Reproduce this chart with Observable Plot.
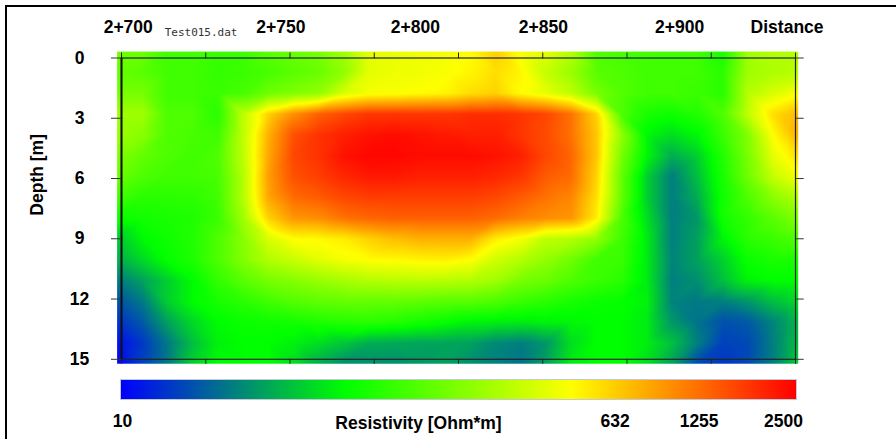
<!DOCTYPE html>
<html>
<head>
<meta charset="utf-8">
<script src="https://cdn.jsdelivr.net/npm/d3@7"></script>
<script src="https://cdn.jsdelivr.net/npm/@observablehq/plot@0.6"></script>
<style>
  html, body { margin: 0; padding: 0; background: #fff; overflow: hidden; }
  #wrap { position: relative; width: 896px; height: 439px; overflow: hidden; background: #fff; }
  #wrap > svg, #wrap > div.chart { position: absolute; left: 0; }
  #border { position: absolute; left: 5px; top: 5px; width: 900px; height: 450px; border: 2px solid #000; z-index: 5; pointer-events: none; }
</style>
</head>
<body>
<div id="wrap"><div id="border"></div></div>
<script>
// ---- data ----
const fileName = "Test015.dat";
const topLabels = ["2+700", "2+750", "2+800", "2+850", "2+900", "Distance"];
const topLabelAt = [2702, 2747.3, 2787.2, 2825.2, 2865.6, 2897.5]; // metres along the profile
const fileNameAt = 2712.8;
const distanceTicks = [2700, 2725, 2750, 2775, 2800, 2825, 2850, 2875, 2900];
const depthTicks = [0, 3, 6, 9, 12, 15];
const yTitle = "Depth [m]";
const gridDistance = [2698.7, 2900.8];   // extent of the inverted model (m)
const gridDepth = [-0.32, 15.22];         // extent of the inverted model (m)
const legendTitle = "Resistivity [Ohm*m]";
const colorTicks = [10, 632, 1255, 2500];
const colorDomain = [10, 2500];
const colorStops = ["#0000ff", "#00ff00", "#ffff00", "#ff0000"];

// resistivity (Ohm*m) at the model nodes: rows from surface (top) to bottom,
// columns from the left edge to the right edge of the section
const resistivity = [
  [140,140,100,100,95,95,120,135,150,200,330,340,360,370, 400,560,380,330,230,110, 105,100,100,100,75,200,230,230],
  [130,120,100,100,90,95,105,120,135,180,330,350,360,380, 420,500,420,260,190,120, 110,100,100,100,85,200,220,240],
  [150,150,100,100,95,105,140,160,180,300,370,380,400,420, 500,550,400,330,250,150, 115,100,100,95,85,230,300,380],
  [200,200,110,110,85,250,550,900,1250,1500,1700,1700,1700,1700, 1800,1800,1700,1500,1100,550, 110,75,70,80,110,250,500,650],
  [190,170,110,105,100,250,700,1400,1750,2000,2200,2300,2200,2100, 2000,2000,1700,1450,1100,600, 180,60,50,60,95,160,400,700],
  [160,130,110,100,110,250,750,1500,1750,2200,2400,2400,2300,2300, 2300,2200,2000,1500,1200,600, 150,60,35,45,80,150,330,500],
  [140,110,100,100,105,230,800,1400,1600,1900,2100,2100,2000,2000, 2000,1900,1700,1300,1150,550, 130,45,25,40,75,140,260,370],
  [100,85,85,88,100,230,750,1150,1300,1500,1600,1600,1600,1600, 1600,1500,1300,1100,950,500, 130,45,25,35,70,110,170,230],
  [68,72,75,78,95,200,550,850,900,1100,1200,1250,1250,1250, 1250,1150,1000,900,850,450, 110,50,25,30,70,90,120,160],
  [42,60,70,80,110,170,300,400,410,450,550,632,700,700, 700,450,370,250,230,180, 100,55,25,32,58,85,95,110],
  [35,48,65,78,110,160,230,270,320,370,400,410,430,440, 400,280,230,180,140,100, 95,55,26,32,45,68,75,75],
  [24,32,45,62,90,120,150,165,190,210,230,240,245,240, 230,200,150,135,110,95, 85,55,25,28,40,58,63,63],
  [18,24,45,62,75,85,100,115,125,130,130,130,125,120, 120,110,95,85,75,68, 65,58,26,24,25,30,40,48],
  [14,19,32,48,62,68,70,72,78,82,85,80,72,65, 58,56,55,58,60,63, 63,55,30,23,18,19,26,38],
  [11,15,24,40,58,63,63,58,50,42,35,34,33,33, 32,27,25,30,50,63, 63,56,40,25,16,17,25,40],
  [10,16,24,45,63,63,63,50,35,28,28,28,30,32, 28,25,23,32,55,63, 63,50,32,17,15,17,25,45]
];

// ---- sample table: model nodes spread over the whole model extent ----
const nRows = resistivity.length, nCols = resistivity[0].length;
const samples = [];
resistivity.forEach((row, r) => row.forEach((v, c) => samples.push({
  x: gridDistance[0] + c * (gridDistance[1] - gridDistance[0]) / (nCols - 1),
  y: gridDepth[0] + r * (gridDepth[1] - gridDepth[0]) / (nRows - 1),
  v
})));

const colorScale = {
  type: "linear",
  domain: colorDomain.map(Math.log10),
  interpolate: d3.piecewise(d3.interpolateRgb, colorStops)
};
const font = "'Liberation Sans', Arial, Helvetica, sans-serif";
const baseStyle = {fontFamily: font, fontSize: "17.5px", fontWeight: "bold", color: "#000", background: "transparent", overflow: "visible"};

const main = Plot.plot({
  width: 896, height: 439,
  marginLeft: 121, marginRight: 101, marginTop: 57.5, marginBottom: 80.2,
  x: {domain: [distanceTicks[0], distanceTicks[distanceTicks.length - 1]], axis: null},
  y: {domain: [depthTicks[0], depthTicks[depthTicks.length - 1]], reverse: true, axis: null},
  color: colorScale,
  style: baseStyle,
  marks: [
    Plot.raster(samples, {
      x: "x", y: "y", fill: d => Math.log10(d.v), interpolate: "barycentric",
      x1: gridDistance[0], x2: gridDistance[1], y1: gridDepth[0], y2: gridDepth[1]
    }),
    Plot.frame({stroke: "#222", strokeWidth: 1.2}),
    Plot.ruleX([distanceTicks[0]], {stroke: "#111", strokeWidth: 2}),
    Plot.axisX(distanceTicks, {anchor: "top", tickSize: 6, tickFormat: () => "", label: null, stroke: "#222"}),
    Plot.axisX(distanceTicks, {anchor: "bottom", tickSize: 5, tickFormat: () => "", label: null, stroke: "#222"}),
    Plot.axisY(depthTicks, {anchor: "left", tickSize: 10, tickPadding: 32, textAnchor: "middle", label: null, stroke: "#333", fontSize: 17.5, fontWeight: "bold"}),
    Plot.axisY(depthTicks, {anchor: "right", tickSize: 7.7, tickFormat: () => "", label: null, stroke: "#333"}),
    Plot.text(topLabels, {x: (d, i) => topLabelAt[i], text: d => d, frameAnchor: "top", lineAnchor: "bottom", dy: -25.5, fontSize: 17.5, fontWeight: "bold", fill: "#000"}),
    Plot.text([fileName], {x: () => fileNameAt, text: d => d, frameAnchor: "top", textAnchor: "start", lineAnchor: "bottom", dy: -22.5, fontFamily: "'DejaVu Sans Mono', monospace", fontSize: 11, fontWeight: "normal", fill: "#333"}),
    Plot.text([yTitle], {text: d => d, frameAnchor: "left", rotate: -90, lineAnchor: "bottom", dx: -78.5, dy: 7, fontSize: 17.5, fontWeight: "bold", fill: "#000"})
  ]
});
main.style.top = "0px";

const legend = Plot.plot({
  width: 896, height: 69,
  marginLeft: 120, marginRight: 100, marginTop: 9, marginBottom: 40,
  x: {type: "log", domain: colorDomain, axis: null},
  y: {domain: [0, 1], axis: null},
  color: colorScale,
  style: baseStyle,
  marks: [
    Plot.raster({fill: (x, y) => Math.log10(x), x1: colorDomain[0], x2: colorDomain[1], y1: 0, y2: 1}),
    Plot.frame({stroke: "#c4c8dc", strokeWidth: 1}),
    Plot.text(colorTicks.slice(0, 1), {x: d => d, text: d => String(d), frameAnchor: "bottom", lineAnchor: "bottom", dy: 27, dx: 2, fontSize: 17.5, fontWeight: "bold", fill: "#000"}),
    Plot.text(colorTicks.slice(1), {x: d => d, text: d => String(d), frameAnchor: "bottom", lineAnchor: "bottom", dy: 27.5, dx: -13, fontSize: 17.5, fontWeight: "bold", fill: "#000"}),
    Plot.text([legendTitle], {text: d => d, frameAnchor: "bottom-left", textAnchor: "middle", lineAnchor: "bottom", dx: 298, dy: 29, fontSize: 17.5, fontWeight: "bold", fill: "#000"})
  ]
});
legend.style.top = "370px";

const wrap = document.getElementById("wrap");
wrap.appendChild(main);
wrap.appendChild(legend);
</script>
</body>
</html>
